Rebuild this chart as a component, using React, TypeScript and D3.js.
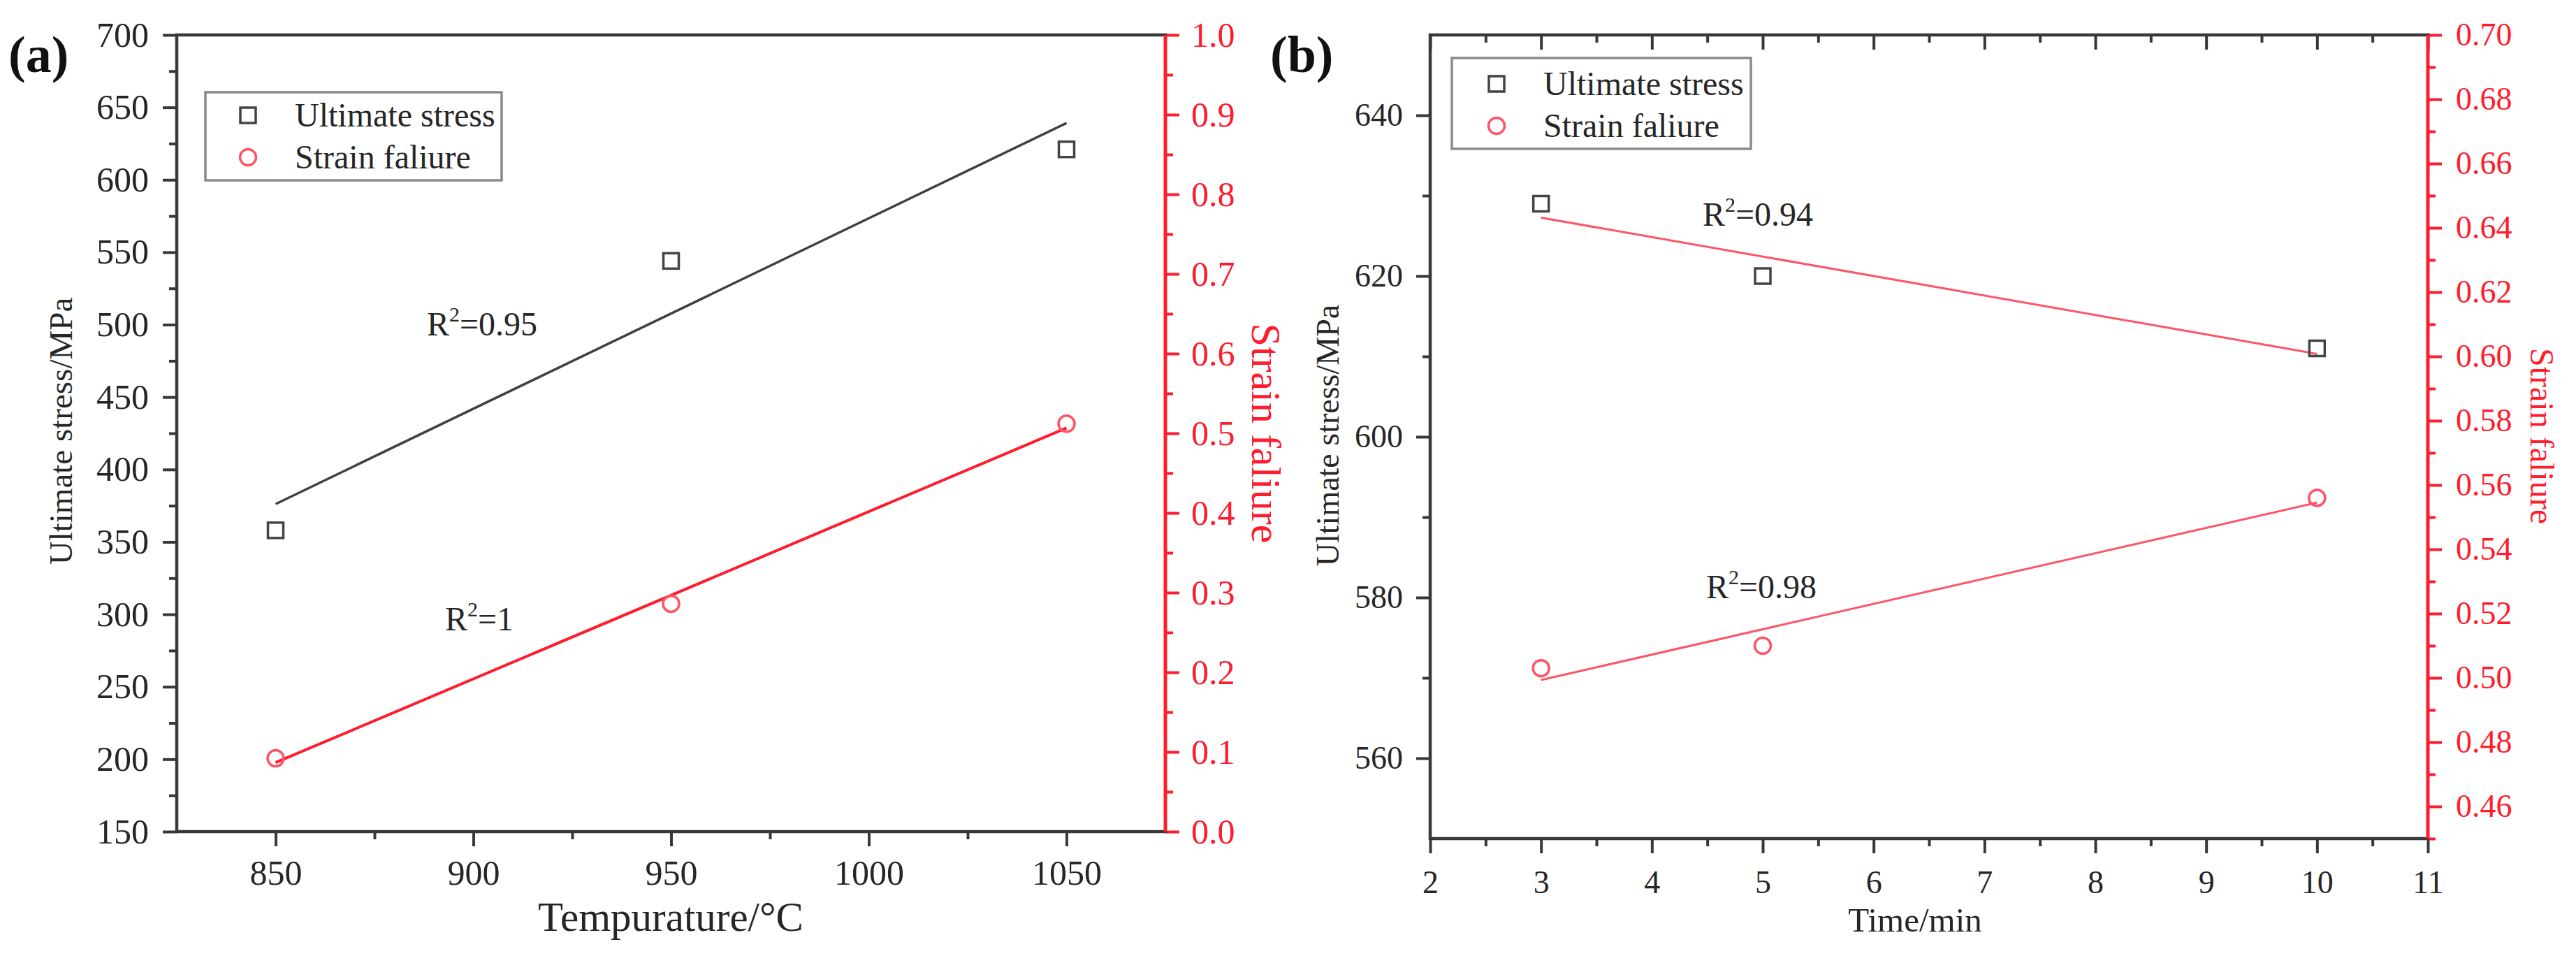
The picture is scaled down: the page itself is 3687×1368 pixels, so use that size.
import React, { useEffect, useRef } from 'react';
import * as d3 from 'd3';

// ---------- data ----------
const temperature = [850, 950, 1050];
const stressByTemp = [358, 544, 621];
const strainByTemp = [0.092, 0.286, 0.512];

const time = [3, 5, 10];
const stressByTime = [629, 620, 611];
const strainByTime = [0.503, 0.51, 0.556];

const legendLabels = ['Ultimate stress', 'Strain faliure'];
const r2A = ['0.95', '1'];
const r2B = ['0.94', '0.98'];

const ticksA = {
  xMajor: [850, 900, 950, 1000, 1050],
  xMinor: [875, 925, 975, 1025],
  yLMajor: d3.range(150, 701, 50),
  yLMinor: d3.range(175, 700, 50),
  yRMajor: d3.range(0, 11).map((d) => d / 10),
  yRMinor: d3.range(0, 10).map((d) => d / 10 + 0.05),
};
const ticksB = {
  xMajor: d3.range(2, 12),
  xMinor: d3.range(2, 11).map((d) => d + 0.5),
  yLMajor: [560, 580, 600, 620, 640],
  yLMinor: [570, 590, 610, 630],
  yRMajor: d3.range(23, 36).map((d) => d / 50),
  yRMinor: d3.range(45, 70, 2).map((d) => d / 100),
};

// ---------- style ----------
const W = 3687;
const H = 1368;
const FONT = "'Liberation Serif', 'Times New Roman', serif";
const BLACK = '#383838';
const TEXT = '#262626';
const RED = '#ff1c2c';
const RED_LIGHT = '#ff5466';

function regression(xs: number[], ys: number[]) {
  const mx = d3.mean(xs)!;
  const my = d3.mean(ys)!;
  let sxy = 0;
  let sxx = 0;
  xs.forEach((x, i) => {
    sxy += (x - mx) * (ys[i] - my);
    sxx += (x - mx) * (x - mx);
  });
  const slope = sxy / sxx;
  const intercept = my - slope * mx;
  return (x: number) => intercept + slope * x;
}

type Panel = {
  left: number;
  right: number;
  top: number;
  bottom: number;
  xDomain: [number, number];
  yLDomain: [number, number];
  yRDomain: [number, number];
  ticks: typeof ticksA;
  xs: number[];
  stress: number[];
  strain: number[];
  stressFitColor: string;
  fitColor: string;
  fitWidth: number;
  stressFitWidth: number;
  tickFont: number;
  xPad: number;
  yLPad: number;
  yRPad: number;
  yRFormat: string;
  topTicks: boolean;
  xLabel: string;
  xLabelPos: [number, number];
  xLabelFont: number;
  yLLabelPos: [number, number];
  yLLabelFont: number;
  yRLabelPos: [number, number];
  yRLabelFont: number;
  tag: string;
  tagPos: [number, number];
  legend: { x0: number; y0: number; x1: number; y1: number; mx: number; tx: number; rows: number[] };
  r2: string[];
  r2Pos: [number, number][];
};

const panelA: Panel = {
  left: 253,
  right: 1668,
  top: 50,
  bottom: 1190,
  xDomain: [825, 1075],
  yLDomain: [150, 700],
  yRDomain: [0, 1],
  ticks: ticksA,
  xs: temperature,
  stress: stressByTemp,
  strain: strainByTemp,
  stressFitColor: '#404040',
  fitColor: RED,
  fitWidth: 4,
  stressFitWidth: 3.5,
  tickFont: 50,
  xPad: 19,
  yLPad: 20,
  yRPad: 17,
  yRFormat: '.1f',
  topTicks: false,
  xLabel: 'Tempurature/°C',
  xLabelPos: [960, 1332],
  xLabelFont: 59,
  yLLabelPos: [103, 617],
  yLLabelFont: 47,
  yRLabelPos: [1792, 620],
  yRLabelFont: 60,
  tag: '(a)',
  tagPos: [12, 103],
  legend: { x0: 294, y0: 132, x1: 718, y1: 258, mx: 355, tx: 422, rows: [165, 225] },
  r2: r2A,
  r2Pos: [
    [611, 480],
    [637, 902],
  ],
};

const panelB: Panel = {
  left: 2047,
  right: 3475,
  top: 50,
  bottom: 1200,
  xDomain: [2, 11],
  yLDomain: [550, 650],
  yRDomain: [0.45, 0.7],
  ticks: ticksB,
  xs: time,
  stress: stressByTime,
  strain: strainByTime,
  stressFitColor: RED_LIGHT,
  fitColor: RED_LIGHT,
  fitWidth: 3,
  stressFitWidth: 3,
  tickFont: 46,
  xPad: 24,
  yLPad: 19,
  yRPad: 20,
  yRFormat: '.2f',
  topTicks: true,
  xLabel: 'Time/min',
  xLabelPos: [2741, 1333],
  xLabelFont: 49,
  yLLabelPos: [1916, 623],
  yLLabelFont: 46,
  yRLabelPos: [3622, 624],
  yRLabelFont: 48,
  tag: '(b)',
  tagPos: [1818, 103],
  legend: { x0: 2078, y0: 83, x1: 2506, y1: 213, mx: 2142, tx: 2209, rows: [120, 180] },
  r2: r2B,
  r2Pos: [
    [2437, 323],
    [2442, 856],
  ],
};

function styleAxis(g: any, color: string, font: number) {
  g.attr('font-family', FONT).attr('font-size', font).style('font-family', FONT);
  g.select('.domain').remove();
  g.selectAll('.tick line').attr('stroke', color).attr('stroke-width', 4);
  g.selectAll('.tick text')
    .attr('fill', color)
    .style('font-family', FONT)
    .style('font-size', `${font}px`);
}

function serifText(g: any, size: number, fill: string) {
  return g
    .append('text')
    .attr('font-family', FONT)
    .style('font-family', FONT)
    .attr('font-size', size)
    .attr('fill', fill);
}

function drawPanel(svg: any, p: Panel) {
  const x = d3.scaleLinear().domain(p.xDomain).range([p.left, p.right]);
  const yL = d3.scaleLinear().domain(p.yLDomain).range([p.bottom, p.top]);
  const yR = d3.scaleLinear().domain(p.yRDomain).range([p.bottom, p.top]);
  const g = svg.append('g');

  // bottom axis
  const bMaj = g
    .append('g')
    .attr('transform', `translate(0,${p.bottom})`)
    .call(d3.axisBottom(x).tickValues(p.ticks.xMajor).tickSize(21).tickPadding(p.xPad).tickFormat(d3.format('d')));
  styleAxis(bMaj, BLACK, p.tickFont);
  bMaj.selectAll('.tick text').attr('fill', TEXT);
  const bMin = g
    .append('g')
    .attr('transform', `translate(0,${p.bottom})`)
    .call(d3.axisBottom(x).tickValues(p.ticks.xMinor).tickSize(11).tickFormat(() => ''));
  styleAxis(bMin, BLACK, p.tickFont);

  if (p.topTicks) {
    const tMaj = g
      .append('g')
      .attr('transform', `translate(0,${p.top})`)
      .call(d3.axisTop(x).tickValues(p.ticks.xMajor).tickSize(-21).tickFormat(() => ''));
    styleAxis(tMaj, BLACK, p.tickFont);
    const tMin = g
      .append('g')
      .attr('transform', `translate(0,${p.top})`)
      .call(d3.axisTop(x).tickValues(p.ticks.xMinor).tickSize(-11).tickFormat(() => ''));
    styleAxis(tMin, BLACK, p.tickFont);
  }

  // left axis
  const lMaj = g
    .append('g')
    .attr('transform', `translate(${p.left},0)`)
    .call(d3.axisLeft(yL).tickValues(p.ticks.yLMajor).tickSize(20).tickPadding(p.yLPad).tickFormat(d3.format('d')));
  styleAxis(lMaj, BLACK, p.tickFont);
  lMaj.selectAll('.tick text').attr('fill', TEXT);
  const lMin = g
    .append('g')
    .attr('transform', `translate(${p.left},0)`)
    .call(d3.axisLeft(yL).tickValues(p.ticks.yLMinor).tickSize(11).tickFormat(() => ''));
  styleAxis(lMin, BLACK, p.tickFont);

  // right axis
  const rMaj = g
    .append('g')
    .attr('transform', `translate(${p.right},0)`)
    .call(d3.axisRight(yR).tickValues(p.ticks.yRMajor).tickSize(20).tickPadding(p.yRPad).tickFormat(d3.format(p.yRFormat)));
  styleAxis(rMaj, RED, p.tickFont);
  const rMin = g
    .append('g')
    .attr('transform', `translate(${p.right},0)`)
    .call(d3.axisRight(yR).tickValues(p.ticks.yRMinor).tickSize(11).tickFormat(() => ''));
  styleAxis(rMin, RED, p.tickFont);

  // frame
  g.append('path')
    .attr('d', `M${p.right},${p.top}H${p.left}V${p.bottom}H${p.right}`)
    .attr('fill', 'none')
    .attr('stroke', BLACK)
    .attr('stroke-width', 4.5)
    .attr('stroke-linecap', 'square');
  g.append('line')
    .attr('x1', p.right)
    .attr('x2', p.right)
    .attr('y1', p.top)
    .attr('y2', p.bottom)
    .attr('stroke', RED)
    .attr('stroke-width', 5);

  // fit lines
  const xEnds = [d3.min(p.xs)!, d3.max(p.xs)!];
  const fS = regression(p.xs, p.stress);
  const fE = regression(p.xs, p.strain);
  const line = d3.line<[number, number]>();
  g.append('path')
    .attr('d', line(xEnds.map((v) => [x(v), yL(fS(v))] as [number, number])))
    .attr('stroke', p.stressFitColor)
    .attr('stroke-width', p.stressFitWidth)
    .attr('fill', 'none');
  g.append('path')
    .attr('d', line(xEnds.map((v) => [x(v), yR(fE(v))] as [number, number])))
    .attr('stroke', p.fitColor)
    .attr('stroke-width', p.fitWidth)
    .attr('fill', 'none');

  // markers
  const sq = 22;
  g.selectAll('rect.sq')
    .data(p.xs.map((v, i) => [v, p.stress[i]]))
    .enter()
    .append('rect')
    .attr('x', (d: number[]) => x(d[0]) - sq / 2)
    .attr('y', (d: number[]) => yL(d[1]) - sq / 2)
    .attr('width', sq)
    .attr('height', sq)
    .attr('fill', 'none')
    .attr('stroke', '#444')
    .attr('stroke-width', 3.5);
  g.selectAll('circle.ci')
    .data(p.xs.map((v, i) => [v, p.strain[i]]))
    .enter()
    .append('circle')
    .attr('cx', (d: number[]) => x(d[0]))
    .attr('cy', (d: number[]) => yR(d[1]))
    .attr('r', 11.5)
    .attr('fill', 'none')
    .attr('stroke', RED_LIGHT)
    .attr('stroke-width', 3.5);

  // R² labels
  p.r2.forEach((val, i) => {
    const t = serifText(g, 48, TEXT).attr('x', p.r2Pos[i][0]).attr('y', p.r2Pos[i][1]);
    t.append('tspan').text('R');
    t.append('tspan').attr('dy', -20).attr('font-size', 30).text('2');
    t.append('tspan').attr('dy', 20).text('=' + val);
  });

  // legend
  const L = p.legend;
  g.append('rect')
    .attr('x', L.x0)
    .attr('y', L.y0)
    .attr('width', L.x1 - L.x0)
    .attr('height', L.y1 - L.y0)
    .attr('fill', 'white')
    .attr('stroke', '#8a8a8a')
    .attr('stroke-width', 3.5);
  g.append('rect')
    .attr('x', L.mx - sq / 2)
    .attr('y', L.rows[0] - sq / 2)
    .attr('width', sq)
    .attr('height', sq)
    .attr('fill', 'none')
    .attr('stroke', '#444')
    .attr('stroke-width', 3.5);
  g.append('circle')
    .attr('cx', L.mx)
    .attr('cy', L.rows[1])
    .attr('r', 11.5)
    .attr('fill', 'none')
    .attr('stroke', RED_LIGHT)
    .attr('stroke-width', 3.5);
  legendLabels.forEach((lab, i) => {
    serifText(g, 48, TEXT).attr('x', L.tx).attr('y', L.rows[i]).attr('dy', '0.34em').text(lab);
  });

  // axis titles
  serifText(g, p.xLabelFont, TEXT)
    .attr('x', p.xLabelPos[0])
    .attr('y', p.xLabelPos[1])
    .attr('text-anchor', 'middle')
    .text(p.xLabel);
  serifText(g, p.yLLabelFont, TEXT)
    .attr('transform', `translate(${p.yLLabelPos[0]},${p.yLLabelPos[1]}) rotate(-90)`)
    .attr('text-anchor', 'middle')
    .text('Ultimate stress/MPa');
  serifText(g, p.yRLabelFont, RED)
    .attr('transform', `translate(${p.yRLabelPos[0]},${p.yRLabelPos[1]}) rotate(90)`)
    .attr('text-anchor', 'middle')
    .text('Strain faliure');

  // panel tag
  serifText(g, 74, '#111')
    .attr('x', p.tagPos[0])
    .attr('y', p.tagPos[1])
    .attr('font-weight', 'bold')
    .text(p.tag);
}

export default function App() {
  const ref = useRef<SVGSVGElement>(null);
  useEffect(() => {
    const svg = d3.select(ref.current);
    svg.selectAll('*').remove();
    svg.append('rect').attr('width', W).attr('height', H).attr('fill', 'white');
    drawPanel(svg, panelA);
    drawPanel(svg, panelB);
  }, []);
  return (
    <svg
      ref={ref}
      width={W}
      height={H}
      viewBox={`0 0 ${W} ${H}`}
      style={{ position: 'absolute', left: 0, top: 0, display: 'block' }}
    />
  );
}
